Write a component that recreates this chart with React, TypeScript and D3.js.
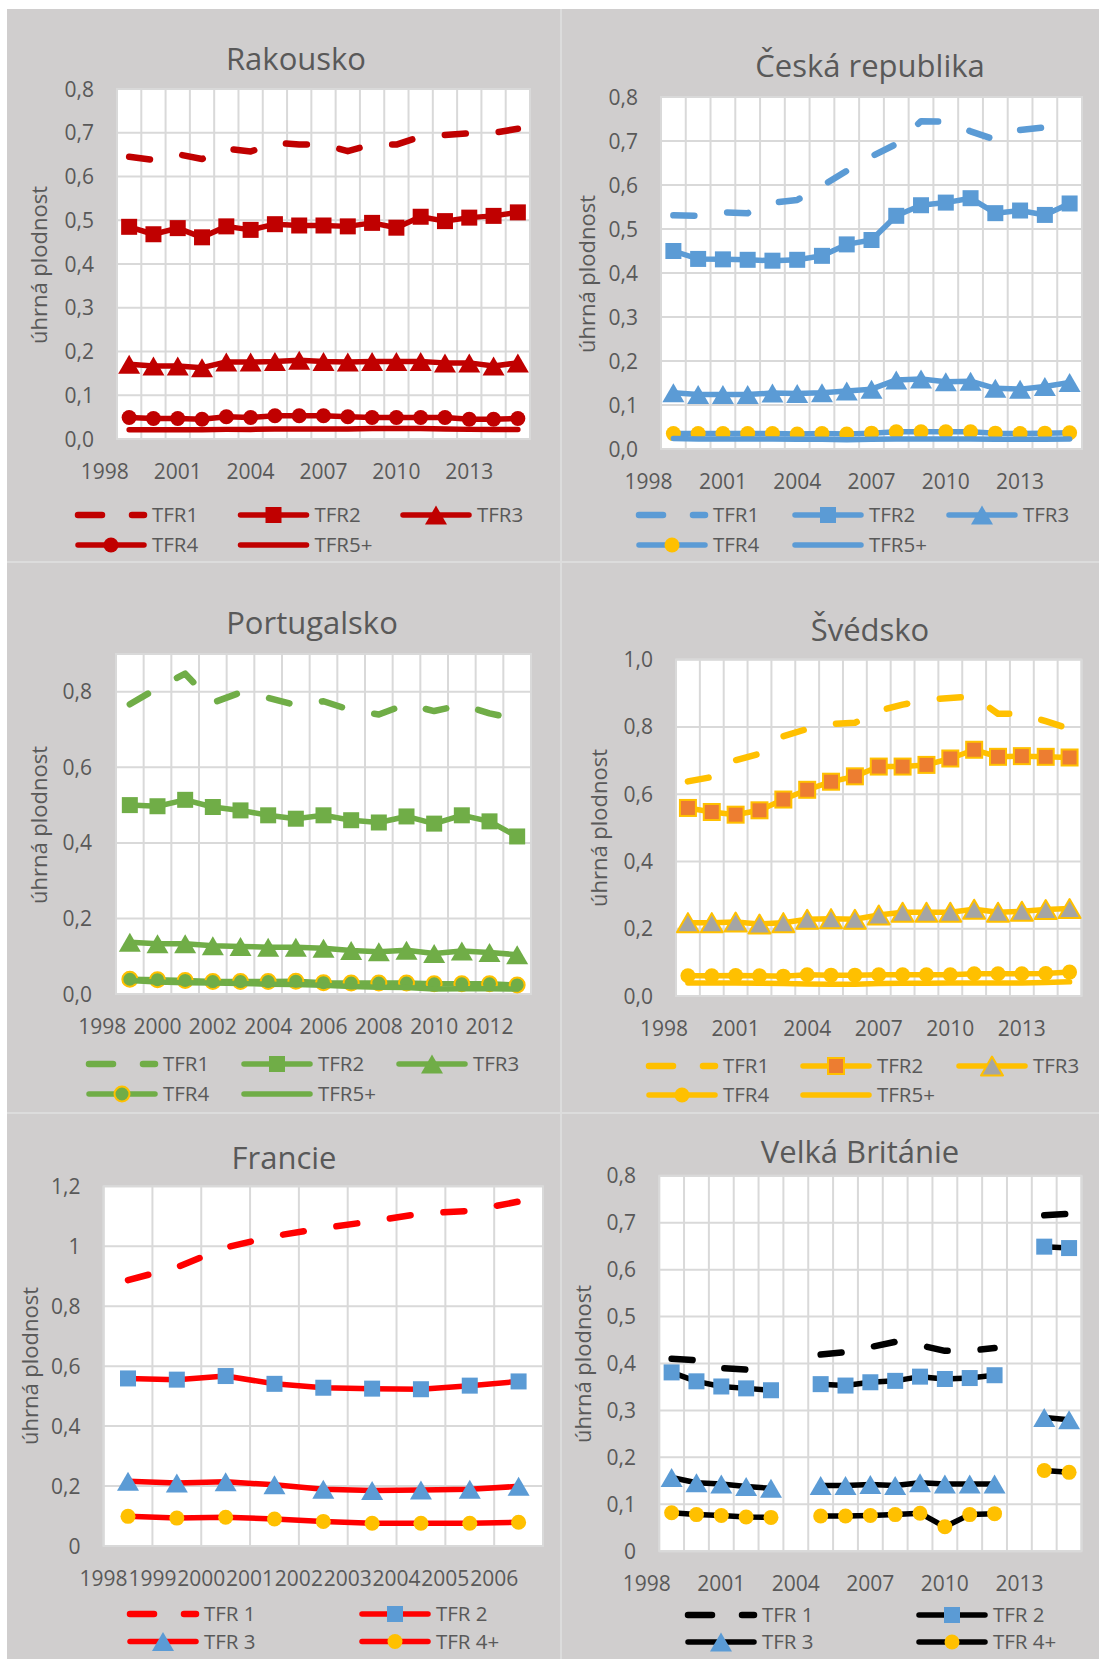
import React from "react";
import * as d3 from "d3";

// ---- data ----
const years99to15 = [1999, 2000, 2001, 2002, 2003, 2004, 2005, 2006, 2007, 2008, 2009, 2010, 2011, 2012, 2013, 2014, 2015];
const years99to13 = [1999, 2000, 2001, 2002, 2003, 2004, 2005, 2006, 2007, 2008, 2009, 2010, 2011, 2012, 2013];
const years98to06 = [1998, 1999, 2000, 2001, 2002, 2003, 2004, 2005, 2006];

// Rakousko
const atTFR1 = [0.645, 0.638, 0.651, 0.640, 0.664, 0.657, 0.677, 0.673, 0.673, 0.658, 0.673, 0.673, 0.691, 0.695, 0.699, 0.700, 0.709];
const atTFR2 = [0.485, 0.468, 0.482, 0.461, 0.486, 0.478, 0.491, 0.488, 0.488, 0.486, 0.494, 0.483, 0.508, 0.498, 0.506, 0.510, 0.518];
const atTFR3 = [0.171, 0.167, 0.167, 0.163, 0.176, 0.176, 0.177, 0.180, 0.177, 0.176, 0.177, 0.177, 0.177, 0.174, 0.174, 0.167, 0.174];
const atTFR4 = [0.049, 0.047, 0.047, 0.045, 0.051, 0.049, 0.053, 0.053, 0.053, 0.051, 0.049, 0.049, 0.049, 0.049, 0.045, 0.045, 0.047];
const atTFR5 = [0.021, 0.021, 0.021, 0.021, 0.022, 0.022, 0.023, 0.023, 0.023, 0.023, 0.024, 0.024, 0.024, 0.023, 0.022, 0.022, 0.022];

// Česká republika
const czTFR1 = [0.531, 0.530, 0.538, 0.536, 0.560, 0.566, 0.598, 0.632, 0.665, 0.693, 0.745, 0.744, 0.722, 0.703, 0.725, 0.731, 0.748];
const czTFR2 = [0.450, 0.432, 0.431, 0.430, 0.428, 0.430, 0.439, 0.465, 0.475, 0.530, 0.554, 0.560, 0.570, 0.536, 0.542, 0.532, 0.558];
const czTFR3 = [0.128, 0.124, 0.124, 0.124, 0.127, 0.126, 0.128, 0.132, 0.136, 0.157, 0.159, 0.153, 0.154, 0.138, 0.136, 0.142, 0.151];
const czTFR4 = [0.035, 0.035, 0.035, 0.035, 0.035, 0.034, 0.035, 0.034, 0.036, 0.039, 0.039, 0.039, 0.039, 0.036, 0.035, 0.036, 0.037];
const czTFR5 = [0.024, 0.023, 0.023, 0.023, 0.023, 0.022, 0.022, 0.021, 0.022, 0.023, 0.023, 0.023, 0.023, 0.022, 0.022, 0.022, 0.023];

// Portugalsko
const ptTFR1 = [0.767, 0.810, 0.848, 0.771, 0.798, 0.784, 0.765, 0.775, 0.751, 0.740, 0.767, 0.749, 0.765, 0.743, 0.727];
const ptTFR2 = [0.500, 0.497, 0.514, 0.495, 0.486, 0.473, 0.464, 0.473, 0.460, 0.454, 0.470, 0.451, 0.473, 0.457, 0.417];
const ptTFR3 = [0.137, 0.133, 0.133, 0.128, 0.126, 0.124, 0.124, 0.121, 0.115, 0.112, 0.116, 0.107, 0.114, 0.110, 0.104];
const ptTFR4 = [0.039, 0.038, 0.036, 0.033, 0.033, 0.033, 0.034, 0.030, 0.029, 0.029, 0.029, 0.027, 0.027, 0.027, 0.024];
const ptTFR5 = [0.036, 0.032, 0.030, 0.029, 0.028, 0.026, 0.025, 0.023, 0.020, 0.018, 0.017, 0.013, 0.014, 0.014, 0.013];

// Švédsko
const seTFR1 = [0.638, 0.651, 0.701, 0.720, 0.772, 0.794, 0.809, 0.812, 0.848, 0.866, 0.880, 0.886, 0.890, 0.839, 0.839, 0.817, 0.794];
const seTFR2 = [0.559, 0.547, 0.539, 0.552, 0.584, 0.613, 0.637, 0.653, 0.682, 0.682, 0.687, 0.706, 0.732, 0.711, 0.713, 0.711, 0.709];
const seTFR3 = [0.218, 0.218, 0.220, 0.214, 0.218, 0.228, 0.230, 0.228, 0.241, 0.249, 0.249, 0.249, 0.258, 0.249, 0.252, 0.257, 0.260];
const seTFR4 = [0.060, 0.060, 0.061, 0.060, 0.059, 0.063, 0.062, 0.062, 0.063, 0.063, 0.063, 0.063, 0.066, 0.066, 0.066, 0.067, 0.071];
const seTFR5 = [0.039, 0.039, 0.039, 0.038, 0.037, 0.036, 0.035, 0.035, 0.037, 0.038, 0.038, 0.039, 0.039, 0.039, 0.039, 0.040, 0.042];

// Francie
const frTFR1 = [0.887, 0.930, 0.996, 1.034, 1.061, 1.083, 1.109, 1.118, 1.149];
const frTFR2 = [0.559, 0.555, 0.567, 0.541, 0.528, 0.525, 0.523, 0.535, 0.549];
const frTFR3 = [0.216, 0.210, 0.214, 0.204, 0.189, 0.185, 0.187, 0.189, 0.199];
const frTFR4 = [0.099, 0.093, 0.096, 0.090, 0.082, 0.076, 0.076, 0.076, 0.079];

// Velká Británie (null = no data)
const gbTFR1 = [0.410, 0.407, 0.390, 0.387, 0.386, null, 0.419, 0.424, 0.435, 0.446, 0.439, 0.427, 0.427, 0.433, null, 0.716, 0.719];
const gbTFR2 = [0.381, 0.362, 0.351, 0.347, 0.343, null, 0.356, 0.353, 0.360, 0.363, 0.372, 0.367, 0.369, 0.375, null, 0.649, 0.646];
const gbTFR3 = [0.157, 0.146, 0.143, 0.138, 0.134, null, 0.140, 0.140, 0.142, 0.140, 0.146, 0.143, 0.143, 0.143, null, 0.285, 0.280];
const gbTFR4 = [0.082, 0.078, 0.076, 0.073, 0.072, null, 0.075, 0.075, 0.076, 0.078, 0.081, 0.052, 0.078, 0.080, null, 0.172, 0.168];

// tick values / labels
const yTicks08 = [0, 0.1, 0.2, 0.3, 0.4, 0.5, 0.6, 0.7, 0.8];
const yLabels08 = ["0,0", "0,1", "0,2", "0,3", "0,4", "0,5", "0,6", "0,7", "0,8"];
const yLabelsGB = ["0", "0,1", "0,2", "0,3", "0,4", "0,5", "0,6", "0,7", "0,8"];
const yTicksPT = [0, 0.2, 0.4, 0.6, 0.8];
const yLabelsPT = ["0,0", "0,2", "0,4", "0,6", "0,8"];
const yTicksSE = [0, 0.2, 0.4, 0.6, 0.8, 1.0];
const yLabelsSE = ["0,0", "0,2", "0,4", "0,6", "0,8", "1,0"];
const yTicksFR = [0, 0.2, 0.4, 0.6, 0.8, 1.0, 1.2];
const yLabelsFR = ["0", "0,2", "0,4", "0,6", "0,8", "1", "1,2"];
const xTicksStep3 = [1998, 2001, 2004, 2007, 2010, 2013];
const xTicksPT = [1998, 2000, 2002, 2004, 2006, 2008, 2010, 2012];
const xTicksFR = [1998, 1999, 2000, 2001, 2002, 2003, 2004, 2005, 2006];

const namesA = ["TFR1", "TFR2", "TFR3", "TFR4", "TFR5+"];
const namesB = ["TFR 1", "TFR 2", "TFR 3", "TFR 4+"];

const FONT = "'Open Sans', 'Noto Sans', sans-serif";
const TEXT = "#595959";
const GRID = "#d9d9d9";
const LW = 5.5;
const LW_DASH = 6.5;

type Marker = "none" | "square" | "triangle" | "circle";
type Series = {
  name: string;
  values: (number | null)[];
  color: string;
  dashed?: boolean;
  marker: Marker;
  fill?: string;
  stroke?: string;
};

function mk(names: string[], vals: (number | null)[][], color: string, fills: (string | undefined)[], strokes: (string | undefined)[]): Series[] {
  const markers: Marker[] = ["none", "square", "triangle", "circle", "none"];
  return vals.map((v, i) => ({
    name: names[i],
    values: v,
    color,
    dashed: i === 0,
    marker: markers[i],
    fill: fills[i],
    stroke: strokes[i],
  }));
}

const panels = [
  {
    title: "Rakousko", titleX: 296, titleY: 70,
    plot: { x0: 117, x1: 530, y0: 89, y1: 439 },
    xDomain: [1998.5, 2015.5], years: years99to15, xTicks: xTicksStep3, labelShift: 0,
    yMax: 0.8, yTicks: yTicks08, yLabels: yLabels08, yLabelRight: 94,
    axisTitle: { x: 39, y: 265 },
    legendRows: [515, 545], legendCols: [75, 237.5, 400], legendPerRow: 3,
    series: mk(namesA, [atTFR1, atTFR2, atTFR3, atTFR4, atTFR5], "#c00000",
      [undefined, "#c00000", "#c00000", "#c00000"], [undefined, undefined, undefined, undefined]),
  },
  {
    title: "Česká republika", titleX: 870, titleY: 77,
    plot: { x0: 661, x1: 1082, y0: 97, y1: 449 },
    xDomain: [1998.5, 2015.5], years: years99to15, xTicks: xTicksStep3, labelShift: 0,
    yMax: 0.8, yTicks: yTicks08, yLabels: yLabels08, yLabelRight: 638,
    axisTitle: { x: 587, y: 274 },
    legendRows: [515, 545], legendCols: [636, 792, 946], legendPerRow: 3,
    series: mk(namesA, [czTFR1, czTFR2, czTFR3, czTFR4, czTFR5], "#5b9bd5",
      [undefined, "#5b9bd5", "#5b9bd5", "#ffc000"], [undefined, undefined, undefined, undefined]),
  },
  {
    title: "Portugalsko", titleX: 312, titleY: 634,
    plot: { x0: 116, x1: 531, y0: 654, y1: 994 },
    xDomain: [1998.5, 2013.5], years: years99to13, xTicks: xTicksPT, labelShift: 0,
    yMax: 0.9, yTicks: yTicksPT, yLabels: yLabelsPT, yLabelRight: 92,
    axisTitle: { x: 39, y: 825 },
    legendRows: [1064, 1094], legendCols: [86, 241, 396], legendPerRow: 3,
    series: mk(namesA, [ptTFR1, ptTFR2, ptTFR3, ptTFR4, ptTFR5], "#70ad47",
      [undefined, "#70ad47", "#70ad47", "#70ad47"], [undefined, undefined, undefined, "#ffc000"]),
  },
  {
    title: "Švédsko", titleX: 870, titleY: 641,
    plot: { x0: 676, x1: 1081.5, y0: 659.6, y1: 996 },
    xDomain: [1998.5, 2015.5], years: years99to15, xTicks: xTicksStep3, labelShift: 0,
    yMax: 1.0, yTicks: yTicksSE, yLabels: yLabelsSE, yLabelRight: 653,
    axisTitle: { x: 599, y: 828 },
    legendRows: [1066, 1095], legendCols: [646, 800, 956], legendPerRow: 3,
    series: mk(namesA, [seTFR1, seTFR2, seTFR3, seTFR4, seTFR5], "#ffc000",
      [undefined, "#ed7d31", "#a5a5a5", "#ffc000"], [undefined, "#ffc000", "#ffc000", undefined]),
  },
  {
    title: "Francie", titleX: 284, titleY: 1169,
    plot: { x0: 103.6, x1: 543, y0: 1186.3, y1: 1546 },
    xDomain: [1997.5, 2006.5], years: years98to06, xTicks: xTicksFR, labelShift: -0.5,
    yMax: 1.2, yTicks: yTicksFR, yLabels: yLabelsFR, yLabelRight: 80.4,
    axisTitle: { x: 30.4, y: 1366 },
    legendRows: [1614, 1641.5], legendCols: [127, 359], legendPerRow: 2,
    series: mk(namesB, [frTFR1, frTFR2, frTFR3, frTFR4], "#ff0000",
      [undefined, "#5b9bd5", "#5b9bd5", "#ffc000"], [undefined, undefined, undefined, undefined]),
  },
  {
    title: "Velká Británie", titleX: 860, titleY: 1163,
    plot: { x0: 659.2, x1: 1081.5, y0: 1175.8, y1: 1551.2 },
    xDomain: [1998.5, 2015.5], years: years99to15, xTicks: xTicksStep3, labelShift: 0,
    yMax: 0.8, yTicks: yTicks08, yLabels: yLabelsGB, yLabelRight: 636,
    axisTitle: { x: 583, y: 1364 },
    legendRows: [1615, 1642], legendCols: [685, 916], legendPerRow: 2,
    series: mk(namesB, [gbTFR1, gbTFR2, gbTFR3, gbTFR4], "#000000",
      [undefined, "#5b9bd5", "#5b9bd5", "#ffc000"], [undefined, undefined, undefined, undefined]),
  },
];

function MarkerShape({ type, cx, cy, fill, stroke }: { type: Marker; cx: number; cy: number; fill: string; stroke?: string }) {
  const sw = stroke ? 2 : 0;
  if (type === "square") {
    const s = 16;
    return <rect x={cx - s / 2} y={cy - s / 2} width={s} height={s} fill={fill} stroke={stroke} strokeWidth={sw} />;
  }
  if (type === "triangle") {
    const w = 22, h = 19;
    const p = `M${cx},${cy - h / 2}L${cx + w / 2},${cy + h / 2}L${cx - w / 2},${cy + h / 2}Z`;
    return <path d={p} fill={fill} stroke={stroke} strokeWidth={sw} strokeLinejoin="round" />;
  }
  if (type === "circle") {
    return <circle cx={cx} cy={cy} r={7.5} fill={fill} stroke={stroke} strokeWidth={sw} />;
  }
  return null;
}

function Panel({ cfg }: { cfg: any }) {
  const { plot } = cfg;
  const x = d3.scaleLinear().domain(cfg.xDomain).range([plot.x0, plot.x1]);
  const y = d3.scaleLinear().domain([0, cfg.yMax]).range([plot.y1, plot.y0]);
  const nCat = cfg.xDomain[1] - cfg.xDomain[0];
  const vGrid = d3.range(nCat + 1).map((k) => cfg.xDomain[0] + k);

  const line = d3
    .line<{ yr: number; v: number | null }>()
    .defined((d) => d.v != null)
    .x((d) => x(d.yr))
    .y((d) => y(d.v as number));

  return (
    <g>
      {/* plot area */}
      <rect x={plot.x0} y={plot.y0} width={plot.x1 - plot.x0} height={plot.y1 - plot.y0} fill="#ffffff" />
      {cfg.yTicks.map((t: number) => (
        <line key={"h" + t} x1={plot.x0} x2={plot.x1} y1={y(t)} y2={y(t)} stroke={GRID} strokeWidth={2} />
      ))}
      {vGrid.map((g: number) => (
        <line key={"v" + g} x1={x(g)} x2={x(g)} y1={plot.y0} y2={plot.y1} stroke={GRID} strokeWidth={2} />
      ))}
      <rect x={plot.x0} y={plot.y0} width={plot.x1 - plot.x0} height={plot.y1 - plot.y0} fill="none" stroke={GRID} strokeWidth={2} />

      {/* series */}
      {cfg.series.map((s: Series) => {
        const pts = cfg.years.map((yr: number, i: number) => ({ yr, v: s.values[i] }));
        return (
          <g key={s.name}>
            <path
              d={line(pts) || ""}
              fill="none"
              stroke={s.color}
              strokeWidth={s.dashed ? LW_DASH : LW}
              strokeLinecap="round"
              strokeLinejoin="round"
              strokeDasharray={s.dashed ? "21 33" : undefined}
            />
            {s.marker !== "none" &&
              pts
                .filter((p: any) => p.v != null)
                .map((p: any) => (
                  <MarkerShape key={p.yr} type={s.marker} cx={x(p.yr)} cy={y(p.v)} fill={s.fill || s.color} stroke={s.stroke} />
                ))}
          </g>
        );
      })}

      {/* y axis labels */}
      {cfg.yTicks.map((t: number, i: number) => (
        <text key={"yl" + t} x={cfg.yLabelRight} y={y(t)} dy="0.36em" textAnchor="end" fontSize={21} fill={TEXT} fontFamily={FONT}>
          {cfg.yLabels[i]}
        </text>
      ))}
      {/* x axis labels */}
      {cfg.xTicks.map((t: number) => (
        <text key={"xl" + t} x={x(t + cfg.labelShift)} y={plot.y1 + 40} textAnchor="middle" fontSize={21} fill={TEXT} fontFamily={FONT}>
          {t}
        </text>
      ))}
      {/* axis title */}
      <text
        transform={`translate(${cfg.axisTitle.x},${cfg.axisTitle.y}) rotate(-90)`}
        textAnchor="middle"
        dy="0.35em"
        fontSize={22}
        fill={TEXT}
        fontFamily={FONT}
      >
        úhrná plodnost
      </text>
      {/* title */}
      <text x={cfg.titleX} y={cfg.titleY} textAnchor="middle" fontSize={31} fill={TEXT} fontFamily={FONT}>
        {cfg.title}
      </text>
      {/* legend */}
      {cfg.series.map((s: Series, i: number) => {
        const lx = cfg.legendCols[i % cfg.legendPerRow];
        const ly = cfg.legendRows[Math.floor(i / cfg.legendPerRow)];
        const len = 72;
        return (
          <g key={"lg" + s.name}>
            <line
              x1={lx + 3}
              x2={lx + len - 3}
              y1={ly}
              y2={ly}
              stroke={s.color}
              strokeWidth={s.dashed ? LW_DASH : LW}
              strokeLinecap="round"
              strokeDasharray={s.dashed ? "24 30" : undefined}
            />
            {s.marker !== "none" && <MarkerShape type={s.marker} cx={lx + len / 2} cy={ly} fill={s.fill || s.color} stroke={s.stroke} />}
            <text x={lx + len + 5} y={ly} dy="0.36em" fontSize={20.5} fill={TEXT} fontFamily={FONT}>
              {s.name}
            </text>
          </g>
        );
      })}
    </g>
  );
}

export default function App() {
  const W = 1099;
  const H = 1659;
  return (
    <div style={{ position: "absolute", left: 0, top: 0, width: W, height: H }}>
      <svg width={W} height={H} viewBox={`0 0 ${W} ${H}`} style={{ display: "block" }}>
        <rect x={0} y={0} width={W} height={H} fill="#ffffff" />
        <rect x={7} y={9} width={W - 7} height={H - 9} fill="#d0cece" />
        <line x1={561} x2={561} y1={9} y2={H} stroke="#dcdcdc" strokeWidth={2} />
        <line x1={7} x2={W} y1={562} y2={562} stroke="#dcdcdc" strokeWidth={2} />
        <line x1={7} x2={W} y1={1113} y2={1113} stroke="#dcdcdc" strokeWidth={2} />
        {panels.map((p) => (
          <Panel key={p.title} cfg={p} />
        ))}
      </svg>
    </div>
  );
}
